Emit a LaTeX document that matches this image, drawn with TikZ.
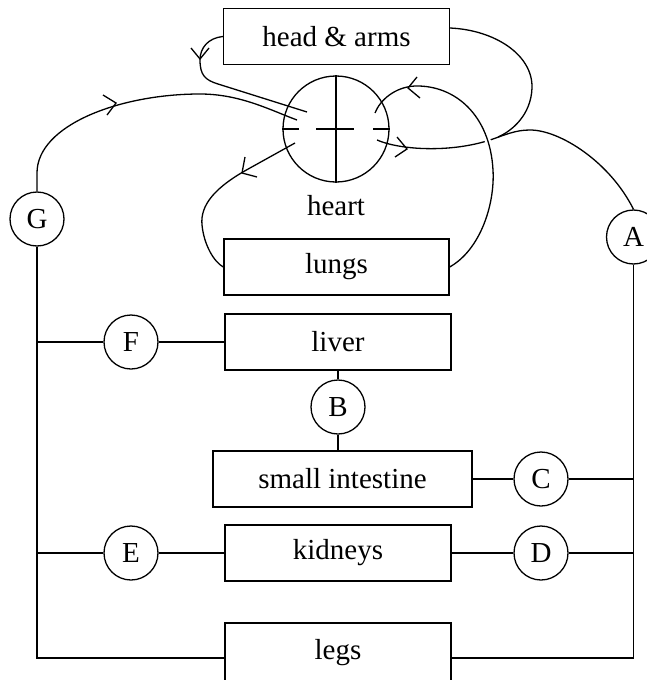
\documentclass[tikz,border=0pt]{standalone}
\usepackage{fontspec}
\setmainfont{Liberation Serif}
\usetikzlibrary{backgrounds}
\begin{document}
\begin{tikzpicture}[x=1pt,y=-1pt, line width=1.3pt,
  conn/.style={line width=1.3pt},
  txt/.style={font=\fontsize{29}{34}\selectfont},
  box/.style={draw, txt, minimum width=226pt, minimum height=56pt, inner sep=0pt},
  valve/.style={draw, circle, txt, minimum size=54pt, inner sep=0pt},
  pump/.style={draw, circle, minimum size=106pt, inner sep=0pt}]
\useasboundingbox (0,0) rectangle (647,680);
\clip (0,0) rectangle (647,680);

% organs
\node[box] (head) at (336.5,36.5) {head \& arms};
\node[box, minimum width=225pt] (lungs) at (336.5,267) {lungs};
\node[box] (liver) at (338,342) {liver};
\node[box, minimum width=259pt] (si) at (342.5,479) {small intestine};
\node[box] (kid) at (338,553) {kidneys};
\node[box, minimum height=60pt] (legs) at (338,653) {legs};

% valves
\node[valve] (G) at (37,219) {G};
\node[valve] (A) at (633.5,237) {A};
\node[valve] (F) at (131,342) {F};
\node[valve] (B) at (338,407) {B};
\node[valve] (C) at (541,479) {C};
\node[valve] (E) at (131,553) {E};
\node[valve] (D) at (541,553) {D};

% heart
\node[pump] (heart) at (336,129) {};
\draw (heart.north) -- (heart.south);
\draw (heart.west) -- ++(17,0);
\draw ([xshift=34pt]heart.west) -- ++(38,0);
\draw (heart.east) -- ++(-17,0);
\node[txt] (hl) at (336,206) {heart};

\coordinate (LL) at (37,658);
\coordinate (RR) at (633.5,658);
\coordinate (gIn) at (297,120);
\coordinate (hIn) at (307,112);
\coordinate (aOut) at (377,140);
\coordinate (hOut) at (450,28);
\coordinate (lOut) at (295,143);
\coordinate (lIn) at (375,113);

\begin{scope}[on background layer, conn]
% trunks
\draw[conn] (G.south) -- (LL) -- (legs.west |- LL);
\draw[conn] (A.south) -- (RR) -- (legs.east |- RR);
\draw[conn] (G.south |- F) -- (F.west);
\draw[conn] (F.east) -- (liver.west);
\draw[conn] (liver.south) -- (B.north);
\draw[conn] (B.south) -- (B.south |- si.north);
\draw[conn] (si.east) -- (C.west);
\draw[conn] (C.east) -- (A.south |- C);
\draw[conn] (G.south |- E) -- (E.west);
\draw[conn] (E.east) -- (kid.west);
\draw[conn] (kid.east) -- (D.west);
\draw[conn] (D.east) -- (A.south |- D);

% G to heart
\draw[conn] (G.north) -- (37,173) .. controls (37,125) and (120,94) .. (200,94)
      .. controls (240,94) and (270,110) .. (gIn);
\draw[conn] (103,95) -- (116,103) -- (107,115);

% head & arms back to heart
\draw[conn] (head.west) .. controls (208,38) and (200,48) .. (200,60)
      .. controls (200,75) and (205,80) .. (218,84) -- (hIn);
\draw[conn] (191,48) -- (200,59) -- (209,48);

% aorta to A
\draw[conn] (aOut) .. controls (400,150) and (450,153) .. (490,140)
      .. controls (505,135) and (515,130) .. (530,130)
      .. controls (560,130) and (610,162) .. (A.north);
\draw[conn] (397,137) -- (407,149) -- (395,157);

% branch to head & arms
\draw[conn] (hOut) .. controls (495,30) and (533,55) .. (532,88)
      .. controls (531,115) and (512,131) .. (498,137);

% heart to lungs
\draw[conn] (lOut) -- (250,168) .. controls (215,187) and (200,205) .. (202,225)
      .. controls (204,245) and (214,262) .. (lungs.west);
\draw[conn] (245,157) -- (242,173) -- (257,177);

% lungs back to heart
\draw[conn, preaction={draw=white,line width=6pt}] (lungs.east)
      .. controls (480,250) and (495,205) .. (493,170)
      .. controls (490,115) and (455,85) .. (415,86)
      .. controls (395,87) and (380,100) .. (lIn);
\draw[conn] (417,77) -- (408,88) -- (420,98);
\end{scope}
\end{tikzpicture}
\end{document}
